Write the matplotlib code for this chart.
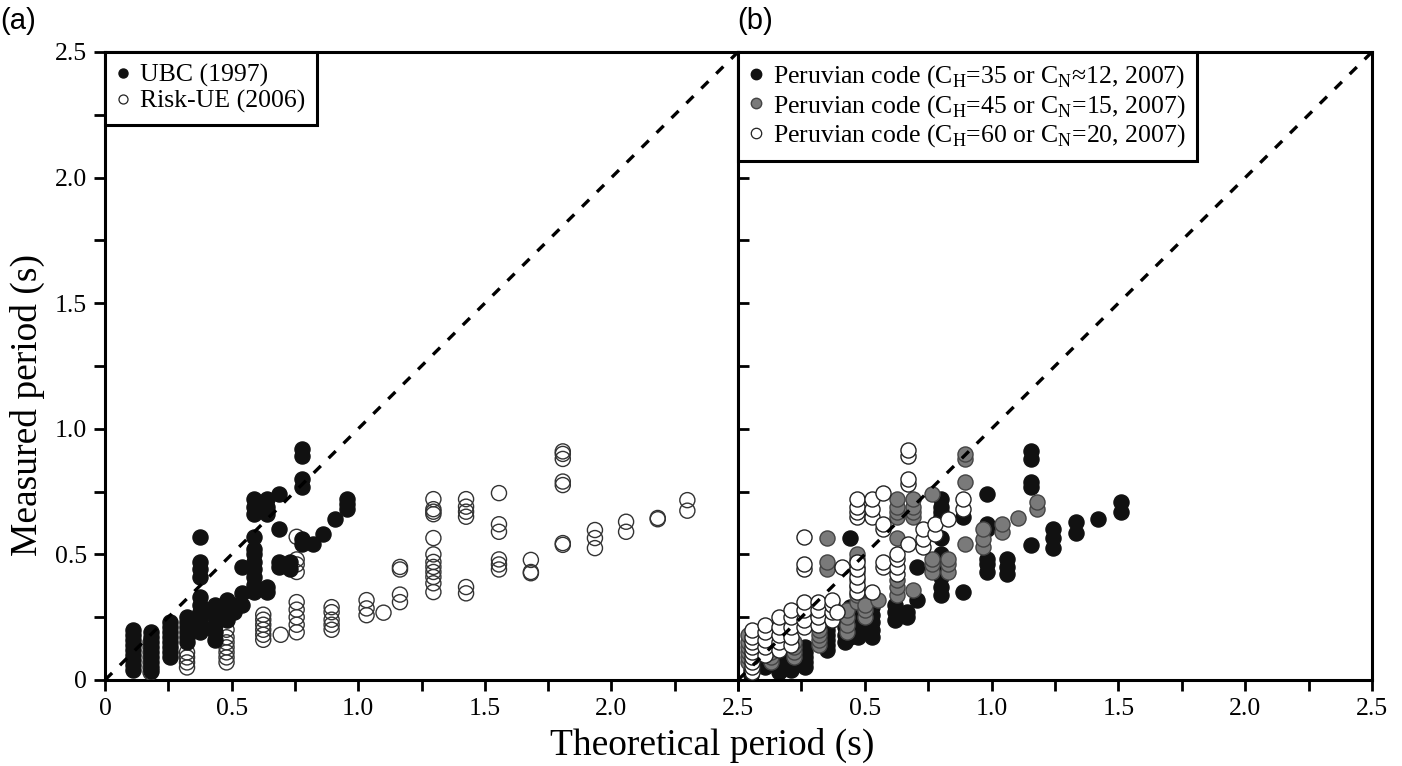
import matplotlib
matplotlib.use("Agg")
import matplotlib.pyplot as plt
from matplotlib.lines import Line2D

plt.rcParams['font.family'] = ['Liberation Serif', 'DejaVu Serif']
plt.rcParams['mathtext.fontset'] = 'custom'
plt.rcParams['mathtext.rm'] = 'Liberation Serif'

# ---------------- data (columns of theoretical period -> measured periods) ----------------
ubc_x = [0.11, 0.18, 0.255, 0.324, 0.375, 0.434, 0.48, 0.51, 0.54, 0.59, 0.64,
         0.687, 0.73, 0.777, 0.82, 0.86, 0.91, 0.955]
ubc_y = [[0.04, 0.06, 0.08, 0.10, 0.12, 0.14, 0.16, 0.18, 0.20],
         [0.035, 0.05, 0.07, 0.09, 0.11, 0.13, 0.15, 0.17, 0.19],
         [0.09, 0.11, 0.13, 0.15, 0.17, 0.19, 0.21, 0.23],
         [0.15, 0.17, 0.19, 0.21, 0.23, 0.25],
         [0.19, 0.21, 0.23, 0.25, 0.27, 0.30, 0.33, 0.41, 0.44, 0.47, 0.57],
         [0.16, 0.19, 0.22, 0.25, 0.28, 0.30],
         [0.24, 0.27, 0.30, 0.32],
         [0.27, 0.30],
         [0.30, 0.346, 0.45],
         [0.35, 0.38, 0.41, 0.44, 0.47, 0.50, 0.52, 0.57, 0.66, 0.69, 0.72],
         [0.35, 0.37, 0.66, 0.69, 0.72],
         [0.45, 0.47, 0.60, 0.74],
         [0.44, 0.47],
         [0.54, 0.56, 0.77, 0.80, 0.89, 0.92],
         [0.54],
         [0.58],
         [0.64],
         [0.68, 0.70, 0.72]]

riskue_x = [0.18, 0.324, 0.48, 0.625, 0.694, 0.757, 0.895, 1.033, 1.10, 1.165,
            1.297, 1.426, 1.556, 1.682, 1.808, 1.935, 2.058, 2.183, 2.30]
riskue_y = [[0.03, 0.05, 0.07, 0.09, 0.11, 0.13, 0.15],
            [0.05, 0.07, 0.09, 0.11],
            [0.07, 0.09, 0.11, 0.13, 0.15, 0.17, 0.20],
            [0.16, 0.18, 0.20, 0.22, 0.24, 0.26],
            [0.18],
            [0.19, 0.22, 0.25, 0.28, 0.31, 0.43, 0.46, 0.48, 0.57],
            [0.20, 0.22, 0.24, 0.27, 0.29],
            [0.258, 0.285, 0.318],
            [0.268],
            [0.31, 0.34, 0.44, 0.45],
            [0.35, 0.385, 0.41, 0.43, 0.45, 0.47, 0.50, 0.565, 0.66, 0.67, 0.68, 0.72],
            [0.345, 0.37, 0.65, 0.67, 0.69, 0.72],
            [0.44, 0.46, 0.48, 0.59, 0.62, 0.744],
            [0.425, 0.43, 0.478],
            [0.538, 0.545, 0.776, 0.79, 0.88, 0.90, 0.91],
            [0.525, 0.565, 0.597],
            [0.59, 0.63],
            [0.64, 0.645],
            [0.674, 0.716]]

peru35_x = [0.05, 0.105, 0.16, 0.21, 0.265, 0.35, 0.42, 0.44, 0.475, 0.527, 0.62,
            0.665, 0.705, 0.80, 0.888, 0.98, 1.06, 1.154, 1.242, 1.333, 1.42, 1.509]
peru35_y = [[0.02, 0.04, 0.06, 0.08],
            [0.05, 0.08],
            [0.03, 0.05, 0.07, 0.09, 0.11],
            [0.04, 0.06, 0.08, 0.10],
            [0.05, 0.07, 0.09, 0.11, 0.13],
            [0.12, 0.14, 0.16, 0.18, 0.20, 0.22, 0.24],
            [0.15, 0.18, 0.21, 0.24],
            [0.17, 0.20, 0.23, 0.26, 0.29, 0.565],
            [0.17, 0.20, 0.23],
            [0.17, 0.20, 0.23, 0.26, 0.29, 0.32],
            [0.24, 0.27, 0.30],
            [0.25, 0.27],
            [0.32, 0.45],
            [0.34, 0.37, 0.41, 0.45, 0.50, 0.565, 0.65, 0.67, 0.69, 0.72],
            [0.35, 0.65],
            [0.43, 0.46, 0.48, 0.60, 0.62, 0.74],
            [0.42, 0.45, 0.48],
            [0.537, 0.77, 0.79, 0.88, 0.91],
            [0.525, 0.565, 0.60],
            [0.585, 0.63],
            [0.64],
            [0.67, 0.71]]

peru45_x = [0.04, 0.13, 0.22, 0.32, 0.35, 0.43, 0.468, 0.50, 0.552, 0.625, 0.69,
            0.764, 0.828, 0.895, 0.966, 1.04, 1.105, 1.178]
peru45_y = [[0.07, 0.09, 0.11, 0.13, 0.15, 0.18],
            [0.07, 0.09, 0.11, 0.13],
            [0.09, 0.11, 0.13, 0.15],
            [0.14, 0.16, 0.18, 0.20],
            [0.44, 0.47, 0.565],
            [0.19, 0.22, 0.25, 0.28],
            [0.31, 0.34, 0.37, 0.40, 0.43, 0.45, 0.48, 0.50],
            [0.25, 0.28, 0.30],
            [0.32],
            [0.34, 0.37, 0.40, 0.565, 0.65, 0.67, 0.69, 0.72],
            [0.358, 0.65, 0.67, 0.69, 0.72],
            [0.43, 0.46, 0.48, 0.74],
            [0.43, 0.46, 0.48],
            [0.54, 0.79, 0.88, 0.90],
            [0.53, 0.56, 0.60],
            [0.59, 0.62],
            [0.645],
            [0.68, 0.71]]

peru60_x = [0.055, 0.105, 0.16, 0.21, 0.26, 0.315, 0.37, 0.39, 0.41, 0.468, 0.527,
            0.572, 0.625, 0.67, 0.73, 0.777, 0.828, 0.888]
peru60_y = [[0.03, 0.05, 0.07, 0.09, 0.11, 0.13, 0.15, 0.17, 0.20],
            [0.10, 0.13, 0.16, 0.19, 0.22],
            [0.12, 0.15, 0.18, 0.21, 0.25],
            [0.14, 0.17, 0.21, 0.25, 0.28],
            [0.21, 0.24, 0.28, 0.31, 0.44, 0.46, 0.57],
            [0.22, 0.25, 0.28, 0.31],
            [0.24, 0.27, 0.30, 0.32],
            [0.27],
            [0.45],
            [0.35, 0.38, 0.41, 0.44, 0.47, 0.65, 0.67, 0.69, 0.72],
            [0.35, 0.65, 0.68, 0.72],
            [0.45, 0.47, 0.60, 0.62, 0.744],
            [0.42, 0.45, 0.48, 0.50],
            [0.54, 0.78, 0.80, 0.89, 0.915],
            [0.53, 0.56, 0.60],
            [0.58, 0.62],
            [0.64],
            [0.68, 0.72]]

legend_a = ['UBC (1997)', 'Risk-UE (2006)']
legend_b = [r'Peruvian code (C$_{\mathrm{H}}$=35 or C$_{\mathrm{N}}$≈12, 2007)',
            r'Peruvian code (C$_{\mathrm{H}}$=45 or C$_{\mathrm{N}}$=15, 2007)',
            r'Peruvian code (C$_{\mathrm{H}}$=60 or C$_{\mathrm{N}}$=20, 2007)']
axis_max = 2.5
major_ticks = [0, 0.5, 1.0, 1.5, 2.0, 2.5]
major_labels = ['0', '0.5', '1.0', '1.5', '2.0', '2.5']
minor_ticks = [0.25, 0.75, 1.25, 1.75, 2.25]


def expand(xs, ys):
    px, py = [], []
    for x, col in zip(xs, ys):
        for y in col:
            px.append(x)
            py.append(y)
    return px, py


W, H = 1402, 766
fig = plt.figure(figsize=(W / 100, H / 100), dpi=100)
left_a, right_a, right_b = 105 / W, 738 / W, 1372 / W
bottom, top = 1 - 680 / H, 1 - 52 / H
ax_a = fig.add_axes([left_a, bottom, right_a - left_a, top - bottom])
ax_b = fig.add_axes([right_a, bottom, right_b - right_a, top - bottom])

MS = 118
LW_SP = 2.2
tick_fs = 18.5

for ax in (ax_a, ax_b):
    ax.set_xlim(0, axis_max)
    ax.set_ylim(0, axis_max)
    ax.plot([0, axis_max], [0, axis_max], color='black', lw=2.4,
            linestyle=(0, (3, 3.3)), zorder=5)
    for s in ax.spines.values():
        s.set_linewidth(LW_SP)
    ax.set_xticks(major_ticks)
    ax.set_xticks(minor_ticks, minor=True)
    ax.set_yticks(major_ticks)
    ax.set_yticks(minor_ticks, minor=True)
    ax.tick_params(which='both', length=8, width=2, labelsize=tick_fs, pad=5)

# panel (a)
rx, ry = expand(riskue_x, riskue_y)
ux, uy = expand(ubc_x, ubc_y)
ax_a.scatter(rx, ry, s=MS, facecolors='none', edgecolors='#333333', linewidths=1.0, zorder=3)
ax_a.scatter(ux, uy, s=MS, facecolors='#111111', edgecolors='#111111', linewidths=1.0, zorder=4)
ax_a.set_xticklabels(major_labels)
ax_a.set_yticklabels(major_labels)
ax_a.tick_params(which='both', direction='out', top=False, right=False)

# panel (b)
bx, by = expand(peru35_x, peru35_y)
gx, gy = expand(peru45_x, peru45_y)
wx, wy = expand(peru60_x, peru60_y)
ax_b.scatter(bx, by, s=MS, facecolors='#111111', edgecolors='#111111', linewidths=1.0, zorder=2)
ax_b.scatter(gx, gy, s=MS, facecolors='#7a7a7a', edgecolors='#444444', linewidths=1.0, zorder=3)
ax_b.scatter(wx, wy, s=MS, facecolors='white', edgecolors='#222222', linewidths=1.0, zorder=4)
ax_b.set_xticklabels([''] + major_labels[1:])
ax_b.tick_params(axis='x', which='both', direction='out')
ax_b.tick_params(axis='y', which='both', direction='in', labelleft=False)

# legends
leg_kw = dict(loc='upper left', bbox_to_anchor=(0, 1), borderaxespad=0,
              frameon=True, fancybox=False, fontsize=18.5, handlelength=0.5,
              handletextpad=0.4, borderpad=0.45, labelspacing=0.1,
              edgecolor='black', framealpha=1)
h_a = [Line2D([], [], ls='none', marker='o', ms=6.5, mfc='#111111', mec='#111111'),
       Line2D([], [], ls='none', marker='o', ms=6.5, mfc='white', mec='#222222', mew=0.9)]
leg_a = ax_a.legend(h_a, legend_a, **leg_kw)
leg_a.get_frame().set_linewidth(2.2)

h_b = [Line2D([], [], ls='none', marker='o', ms=7.5, mfc='#111111', mec='#111111'),
       Line2D([], [], ls='none', marker='o', ms=7.5, mfc='#7a7a7a', mec='#444444'),
       Line2D([], [], ls='none', marker='o', ms=7.5, mfc='white', mec='#222222', mew=0.9)]
leg_b = ax_b.legend(h_b, legend_b, **leg_kw)
leg_b.get_frame().set_linewidth(2.2)

# labels
fig.text(27 / W, 1 - 405 / H, 'Measured period (s)', rotation=90, ha='center',
         va='center', fontsize=27)
fig.text(712 / W, 1 - 745 / H, 'Theoretical period (s)', ha='center', va='center',
         fontsize=27)
fig.text(0 / W, 1 - 21 / H, '(a)', ha='left', va='center', fontsize=21,
         family=['Liberation Sans', 'DejaVu Sans'])
fig.text(737 / W, 1 - 21 / H, '(b)', ha='left', va='center', fontsize=21,
         family=['Liberation Sans', 'DejaVu Sans'])

fig.savefig('out.png', dpi=100)
